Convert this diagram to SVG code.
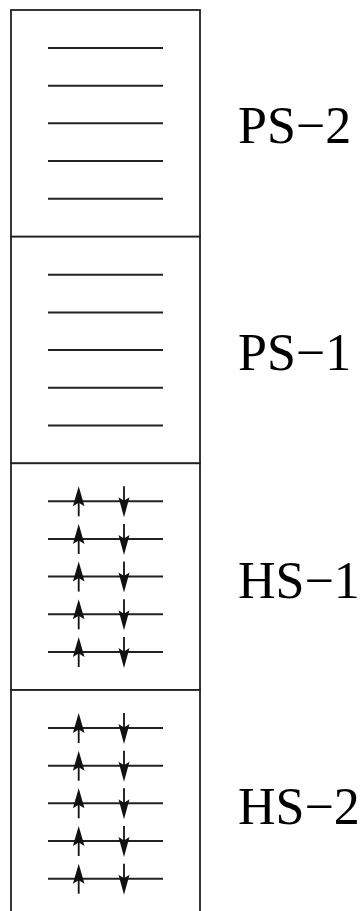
<svg xmlns="http://www.w3.org/2000/svg" width="364" height="911" viewBox="0 0 364 911">
<style>
.box{fill:#fff;stroke:#222;stroke-width:1.8}
.lvl{stroke:#222;stroke-width:2}
.shaft{stroke:#111;stroke-width:1.8}
.head{fill:#111}
.lbl{font-family:"Liberation Serif","Times New Roman",serif;font-size:52px;fill:#000}
</style>
<defs>
<g id="levels">
<line class="lvl" x1="48" y1="38" x2="163" y2="38"/>
<line class="lvl" x1="48" y1="75.7" x2="163" y2="75.7"/>
<line class="lvl" x1="48" y1="113.3" x2="163" y2="113.3"/>
<line class="lvl" x1="48" y1="151" x2="163" y2="151"/>
<line class="lvl" x1="48" y1="188.7" x2="163" y2="188.7"/>
</g>
<g id="pair">
<line class="lvl" x1="48" y1="0" x2="163" y2="0"/>
<line class="shaft" x1="78.7" y1="15" x2="78.7" y2="-8"/>
<path class="head" d="M78.7,-15 L84.5,5 L78.7,1.5 L72.9,5 Z"/>
<line class="shaft" x1="124" y1="-15" x2="124" y2="8"/>
<path class="head" d="M124,16 L129.5,-4 L124,-0.5 L118.5,-4 Z"/>
</g>
<g id="spins">
<use href="#pair" y="38"/>
<use href="#pair" y="75.7"/>
<use href="#pair" y="113.3"/>
<use href="#pair" y="151"/>
<use href="#pair" y="188.7"/>
</g>
</defs>
<g id="ps2">
<rect class="box" x="11" y="10" width="189" height="226.7"/>
<use href="#levels" y="10"/>
<text class="lbl" x="238" y="143.3">PS−2</text>
</g>
<g id="ps1">
<rect class="box" x="11" y="236.7" width="189" height="226.7"/>
<use href="#levels" y="236.7"/>
<text class="lbl" x="238" y="370">PS−1</text>
</g>
<g id="hs1">
<rect class="box" x="11" y="463.3" width="189" height="226.7"/>
<use href="#spins" y="463.3"/>
<text class="lbl" x="238" y="598.3">HS−1</text>
</g>
<g id="hs2">
<rect class="box" x="11" y="690" width="189" height="226.7"/>
<use href="#spins" y="690"/>
<text class="lbl" x="238" y="823.5">HS−2</text>
</g>
<g id="connectors"/>
</svg>
